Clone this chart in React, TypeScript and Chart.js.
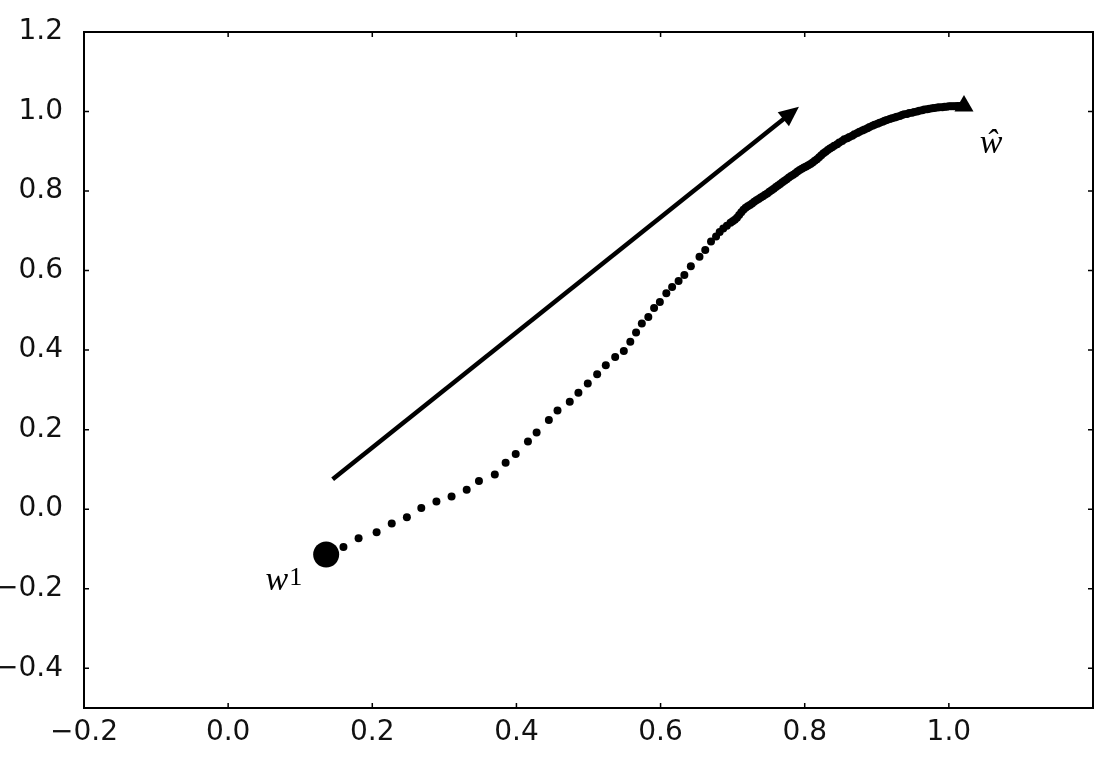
import React, { useEffect, useRef } from "react";
import { Chart, registerables } from "chart.js";

Chart.register(...registerables);

// Axis ranges and ticks
const X_MIN = -0.2;
const X_MAX = 1.2;
const Y_MIN = -0.5;
const Y_MAX = 1.2;
const X_TICKS = [-0.2, 0.0, 0.2, 0.4, 0.6, 0.8, 1.0, 1.2];
const Y_TICKS = [-0.4, -0.2, 0.0, 0.2, 0.4, 0.6, 0.8, 1.0, 1.2];

// Start point (w^1) and end point (w-hat)
const START_X = [0.136];
const START_Y = [-0.114];
const END_X = [1.021];
const END_Y = [1.014];

// Trajectory of the iterates
const PATH_X = [
  0.160, 0.181, 0.206, 0.227, 0.248, 0.268, 0.289, 0.310, 0.331, 0.348,
  0.370, 0.385, 0.399, 0.416, 0.428, 0.445, 0.457, 0.474, 0.486, 0.499,
  0.512, 0.524, 0.537, 0.549, 0.558, 0.566, 0.574, 0.583, 0.591, 0.599,
  0.608, 0.616, 0.625, 0.633, 0.642, 0.654, 0.662, 0.670,
  0.677, 0.682, 0.687, 0.692, 0.697,
  0.700, 0.703, 0.706, 0.709, 0.712, 0.715, 0.718, 0.721, 0.724, 0.727,
  0.730, 0.733, 0.736, 0.739, 0.742, 0.745, 0.748, 0.751, 0.754, 0.757,
  0.760, 0.763, 0.766, 0.769, 0.772, 0.775, 0.778, 0.781, 0.784, 0.787,
  0.790, 0.793, 0.796, 0.799, 0.802, 0.805, 0.808, 0.811, 0.814, 0.817,
  0.820, 0.823, 0.826, 0.829, 0.832, 0.835, 0.838, 0.841, 0.845, 0.848,
  0.852, 0.855, 0.859, 0.862, 0.866, 0.869, 0.873, 0.876, 0.880, 0.883,
  0.887, 0.890, 0.894, 0.897, 0.901, 0.904, 0.908, 0.911, 0.914, 0.918,
  0.921, 0.925, 0.928, 0.932, 0.935, 0.938, 0.942, 0.945, 0.949, 0.952,
  0.956, 0.959, 0.963, 0.966, 0.970, 0.973, 0.977, 0.980, 0.984, 0.987,
  0.991, 0.994, 0.997, 1.000, 1.003, 1.006, 1.009, 1.012, 1.015,
];
const PATH_Y = [
  -0.095, -0.073, -0.058, -0.036, -0.020, 0.003, 0.019, 0.032, 0.049, 0.071,
  0.087, 0.117, 0.139, 0.170, 0.193, 0.224, 0.248, 0.270, 0.293, 0.316,
  0.339, 0.362, 0.383, 0.398, 0.421, 0.444, 0.467, 0.483, 0.506, 0.521,
  0.543, 0.559, 0.574, 0.589, 0.611, 0.635, 0.652, 0.673,
  0.686, 0.697, 0.706, 0.713, 0.720,
  0.724, 0.728, 0.733, 0.740, 0.747, 0.753, 0.758, 0.762, 0.765, 0.769,
  0.773, 0.777, 0.780, 0.784, 0.787, 0.791, 0.794, 0.798, 0.802, 0.806,
  0.810, 0.814, 0.818, 0.822, 0.826, 0.830, 0.834, 0.838, 0.841, 0.845,
  0.849, 0.853, 0.856, 0.859, 0.862, 0.865, 0.868, 0.872, 0.876, 0.880,
  0.885, 0.890, 0.895, 0.899, 0.903, 0.907, 0.910, 0.914, 0.918, 0.922,
  0.926, 0.930, 0.933, 0.936, 0.939, 0.943, 0.946, 0.949, 0.952, 0.955,
  0.958, 0.961, 0.964, 0.967, 0.969, 0.972, 0.974, 0.977, 0.979, 0.981,
  0.983, 0.985, 0.987, 0.989, 0.991, 0.993, 0.994, 0.996, 0.997, 0.999,
  1.000, 1.002, 1.003, 1.005, 1.006, 1.007, 1.008, 1.009, 1.010, 1.011,
  1.011, 1.012, 1.012, 1.013, 1.013, 1.013, 1.013, 1.014, 1.014,
];

// Direction arrow (tail, tip)
const ARROW_X = [0.145, 0.792];
const ARROW_Y = [0.075, 1.012];

// Text annotations (left x, baseline y)
const LABEL_W1 = { text: "w", sup: "1", x: 0.052, y: -0.203 };
const LABEL_WHAT = { text: "ŵ", x: 1.043, y: 0.896 };

const TICK_FONT = { family: "'DejaVu Sans', sans-serif", size: 28 };

function fmt(v: number): string {
  const s = Math.abs(v) < 1e-9 ? "0.0" : v.toFixed(1);
  return s.replace("-", "\u2212");
}

const framePlugin = {
  id: "frameAndAnnotations",
  afterDraw(chart: any) {
    const { ctx, chartArea, scales } = chart;
    const xs = scales.x;
    const ys = scales.y;
    const { left, right, top, bottom } = chartArea;
    ctx.save();

    // Arrow
    const x0 = xs.getPixelForValue(ARROW_X[0]);
    const y0 = ys.getPixelForValue(ARROW_Y[0]);
    const x1 = xs.getPixelForValue(ARROW_X[1]);
    const y1 = ys.getPixelForValue(ARROW_Y[1]);
    const ang = Math.atan2(y1 - y0, x1 - x0);
    const headLen = 20;
    const headHalf = 9;
    const bx = x1 - Math.cos(ang) * headLen;
    const by = y1 - Math.sin(ang) * headLen;
    ctx.strokeStyle = "#000";
    ctx.lineWidth = 4.5;
    ctx.lineCap = "butt";
    ctx.beginPath();
    ctx.moveTo(x0, y0);
    ctx.lineTo(bx + Math.cos(ang) * 2, by + Math.sin(ang) * 2);
    ctx.stroke();
    ctx.fillStyle = "#000";
    ctx.beginPath();
    ctx.moveTo(x1, y1);
    ctx.lineTo(bx - Math.sin(ang) * headHalf, by + Math.cos(ang) * headHalf);
    ctx.lineTo(bx + Math.sin(ang) * headHalf, by - Math.cos(ang) * headHalf);
    ctx.closePath();
    ctx.fill();

    // Labels
    ctx.fillStyle = "#000";
    ctx.textBaseline = "alphabetic";
    ctx.textAlign = "left";
    const lx = xs.getPixelForValue(LABEL_W1.x);
    const ly = ys.getPixelForValue(LABEL_W1.y);
    ctx.font = "italic 34px 'Liberation Serif', serif";
    ctx.fillText(LABEL_W1.text, lx, ly);
    const ww = ctx.measureText(LABEL_W1.text).width;
    ctx.font = "26px 'Liberation Serif', serif";
    ctx.fillText(LABEL_W1.sup, lx + ww + 1, ly - 5);

    const hx = xs.getPixelForValue(LABEL_WHAT.x);
    const hy = ys.getPixelForValue(LABEL_WHAT.y);
    ctx.font = "italic 34px 'Liberation Serif', serif";
    ctx.fillText(LABEL_WHAT.text, hx, hy);

    // Frame
    ctx.strokeStyle = "#000";
    ctx.lineWidth = 2;
    ctx.strokeRect(left, top, right - left, bottom - top);

    // Inward tick marks on all sides
    ctx.lineWidth = 1.5;
    const tl = 5;
    ctx.beginPath();
    X_TICKS.forEach((v) => {
      const px = xs.getPixelForValue(v);
      if (px <= left + 1 || px >= right - 1) return;
      ctx.moveTo(px, bottom);
      ctx.lineTo(px, bottom - tl);
      ctx.moveTo(px, top);
      ctx.lineTo(px, top + tl);
    });
    Y_TICKS.forEach((v) => {
      const py = ys.getPixelForValue(v);
      if (py <= top + 1 || py >= bottom - 1) return;
      ctx.moveTo(left, py);
      ctx.lineTo(left + tl, py);
      ctx.moveTo(right, py);
      ctx.lineTo(right - tl, py);
    });
    ctx.stroke();
    ctx.restore();
  },
};

export default function App() {
  const ref = useRef<HTMLCanvasElement>(null);
  useEffect(() => {
    document.body.style.margin = "0";
    const chart = new Chart(ref.current as HTMLCanvasElement, {
      type: "scatter",
      data: {
        datasets: [
          {
            data: PATH_X.map((x, i) => ({ x, y: PATH_Y[i] })),
            pointRadius: 4,
            pointBackgroundColor: "#000",
            pointBorderWidth: 0,
            showLine: false,
          },
          {
            data: START_X.map((x, i) => ({ x, y: START_Y[i] })),
            pointRadius: 13,
            pointBackgroundColor: "#000",
            pointBorderWidth: 0,
            showLine: false,
          },
          {
            data: END_X.map((x, i) => ({ x, y: END_Y[i] })),
            pointRadius: 11,
            pointStyle: "triangle",
            pointBackgroundColor: "#000",
            pointBorderWidth: 0,
            showLine: false,
          },
        ],
      },
      options: {
        animation: false,
        responsive: true,
        maintainAspectRatio: false,
        layout: { padding: { left: 0, right: 11, top: 32, bottom: 0 } },
        plugins: { legend: { display: false }, tooltip: { enabled: false } },
        scales: {
          x: {
            type: "linear",
            min: X_MIN,
            max: X_MAX,
            afterBuildTicks: (s: any) => {
              s.ticks = X_TICKS.map((v) => ({ value: v }));
            },
            afterFit: (s: any) => {
              s.height = 52;
              s.paddingLeft = 0;
              s.paddingRight = 0;
            },
            grid: { display: false, drawTicks: false },
            border: { display: false },
            ticks: {
              autoSkip: false,
              maxRotation: 0,
              padding: 8,
              color: "#111",
              font: TICK_FONT,
              callback: (v: any) => (Math.abs(Number(v) - X_MAX) < 1e-6 ? "" : fmt(Number(v))),
            },
          },
          y: {
            type: "linear",
            min: Y_MIN,
            max: Y_MAX,
            afterBuildTicks: (s: any) => {
              s.ticks = Y_TICKS.map((v) => ({ value: v }));
            },
            afterFit: (s: any) => {
              s.width = 84;
              s.paddingTop = 0;
              s.paddingBottom = 0;
            },
            grid: { display: false, drawTicks: false },
            border: { display: false },
            ticks: {
              autoSkip: false,
              padding: 21,
              color: "#111",
              font: TICK_FONT,
              callback: (v: any) => fmt(Number(v)),
            },
          },
        },
      },
      plugins: [framePlugin],
    });
    return () => chart.destroy();
  }, []);
  return (
    <div style={{ width: 1106, height: 760, position: "relative" }}>
      <canvas ref={ref} />
    </div>
  );
}
